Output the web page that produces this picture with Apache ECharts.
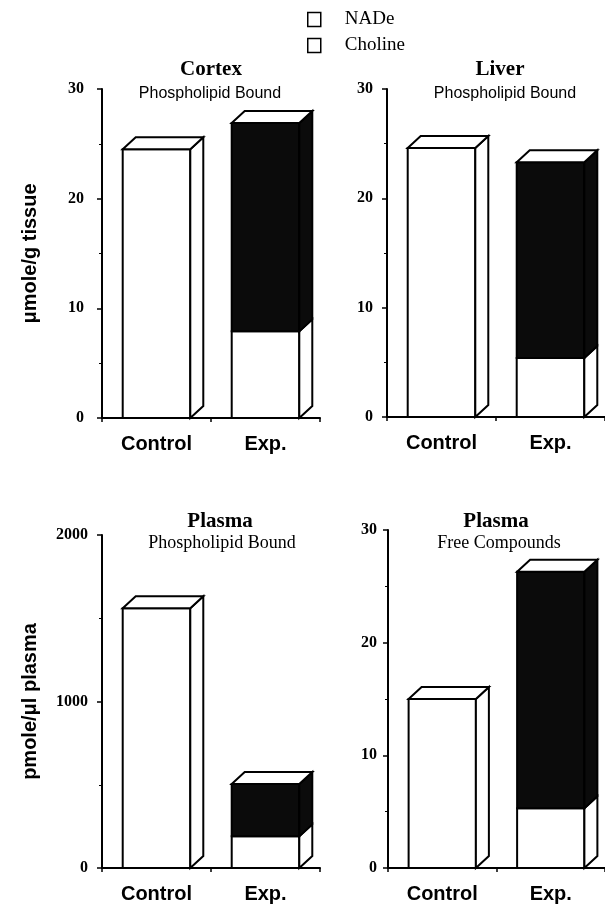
<!DOCTYPE html>
<html>
<head>
<meta charset="utf-8">
<script src="https://cdn.jsdelivr.net/npm/echarts@6/dist/echarts.min.js"></script>
<style>
  html, body { margin: 0; padding: 0; background: #fff; }
  #chart { width: 605px; height: 909px; }
</style>
</head>
<body>
<div id="chart"></div>
<script>
// values
const categories = ['Control', 'Exp.']
const cortexCholine = [24.5, 7.9]
const cortexNade = [0, 19.0]
const liverCholine = [24.6, 5.4]
const liverNade = [0, 17.9]
const plasmaPlCholine = [1560, 190]
const plasmaPlNade = [0, 314]
const plasmaFreeCholine = [15.0, 5.3]
const plasmaFreeNade = [0, 21.0]

const serif = 'Liberation Serif'
const sans = 'Liberation Sans'
const depthX = 13
const depthY = 12

// 3D-looking box bar, drawn from the axis scales
function renderBar(params, api) {
  const i = api.value(0)
  const lo = api.value(1)
  const hi = api.value(2)
  const isTop = api.value(3)
  if (hi <= lo) return
  const w = api.size([1, 0])[0] * 0.62
  const pLo = api.coord([i, lo])
  const pHi = api.coord([i, hi])
  const x0 = pLo[0] - w / 2
  const x1 = x0 + w
  const fill = params.seriesName === 'NADe' ? '#0b0b0b' : '#fff'
  const stroke = { stroke: '#000', lineWidth: 2, lineJoin: 'miter' }
  const children = [
    {
      type: 'rect',
      shape: { x: x0, y: pHi[1], width: w, height: pLo[1] - pHi[1] },
      style: Object.assign({ fill }, stroke),
    },
    {
      type: 'polygon',
      shape: { points: [[x1, pLo[1]], [x1 + depthX, pLo[1] - depthY], [x1 + depthX, pHi[1] - depthY], [x1, pHi[1]]] },
      style: Object.assign({ fill }, stroke),
    },
  ]
  if (isTop) {
    children.push({
      type: 'polygon',
      shape: { points: [[x0, pHi[1]], [x0 + depthX, pHi[1] - depthY], [x1 + depthX, pHi[1] - depthY], [x1, pHi[1]]] },
      style: Object.assign({ fill: '#fff' }, stroke),
    })
  }
  return { type: 'group', children }
}

function cholineData(chol, nade) {
  return categories.map((c, i) => [i, 0, chol[i], nade[i] > 0 ? 0 : 1])
}
function nadeData(chol, nade) {
  return categories.map((c, i) => [i, chol[i], chol[i] + nade[i], 1])
}

const panels = [
  { chol: cortexCholine, nade: cortexNade, grid: { left: 102, top: 89, width: 218, height: 329 }, max: 30, interval: 10, labelMargin: 18 },
  { chol: liverCholine, nade: liverNade, grid: { left: 387, top: 89, width: 222, height: 328 }, max: 30, interval: 10, labelMargin: 14 },
  { chol: plasmaPlCholine, nade: plasmaPlNade, grid: { left: 102, top: 535, width: 218, height: 333 }, max: 2000, interval: 1000, labelMargin: 14 },
  { chol: plasmaFreeCholine, nade: plasmaFreeNade, grid: { left: 388, top: 530, width: 221, height: 338 }, max: 30, interval: 10, labelMargin: 11 },
]

const axisLine = { show: true, lineStyle: { color: '#000', width: 2 } }
const titleFont = { fontFamily: serif, fontSize: 21, fontWeight: 'bold', color: '#000' }

const option = {
  animation: false,
  backgroundColor: '#fff',
  title: [
    { text: 'Cortex', left: 211, top: 59 },
    { text: 'Phospholipid Bound', left: 210, top: 86, textStyle: { fontFamily: sans, fontSize: 16, fontWeight: 'normal' } },
    { text: 'Liver', left: 500, top: 59 },
    { text: 'Phospholipid Bound', left: 505, top: 86, textStyle: { fontFamily: sans, fontSize: 16, fontWeight: 'normal' } },
    { text: 'Plasma', left: 220, top: 511 },
    { text: 'Phospholipid Bound', left: 222, top: 534, textStyle: { fontFamily: serif, fontSize: 18, fontWeight: 'normal' } },
    { text: 'Plasma', left: 496, top: 511 },
    { text: 'Free Compounds', left: 499, top: 534, textStyle: { fontFamily: serif, fontSize: 18, fontWeight: 'normal' } },
  ].map(t => Object.assign({ textAlign: 'center', padding: 0 }, t, {
    textStyle: Object.assign({}, titleFont, t.textStyle || {}),
  })),
  legend: {
    orient: 'vertical',
    left: 307,
    top: 10,
    padding: 0,
    itemWidth: 13,
    itemHeight: 14,
    itemGap: 7,
    selectedMode: false,
    icon: 'rect',
    textStyle: { fontFamily: serif, fontSize: 19, color: '#000', padding: [0, 0, 0, 19], lineHeight: 14 },
    data: [
      { name: 'NADe', itemStyle: { color: '#fff', borderColor: '#000', borderWidth: 1.5 } },
      { name: 'Choline', itemStyle: { color: '#fff', borderColor: '#000', borderWidth: 1.5 } },
    ],
  },
  grid: panels.map(p => p.grid),
  xAxis: panels.map((p, k) => ({
    type: 'category',
    gridIndex: k,
    data: categories,
    axisLine,
    axisTick: { show: true, length: 4, lineStyle: { color: '#000', width: 1.5 } },
    axisLabel: { margin: 16, color: '#000', fontFamily: sans, fontWeight: 'bold', fontSize: 20 },
  })),
  yAxis: panels.map((p, k) => ({
    type: 'value',
    gridIndex: k,
    min: 0,
    max: p.max,
    interval: p.interval,
    name: k === 0 ? 'μmole/g tissue' : (k === 2 ? 'pmole/μl plasma' : ''),
    nameLocation: 'middle',
    nameRotate: 90,
    nameGap: 62,
    nameTextStyle: { fontFamily: sans, fontWeight: 'bold', fontSize: 20, color: '#000' },
    axisLine,
    axisTick: { show: true, length: 5, lineStyle: { color: '#000', width: 1.5 } },
    minorTick: { show: true, splitNumber: 2, length: 3, lineStyle: { color: '#000', width: 1 } },
    splitLine: { show: false },
    axisLabel: {
      margin: p.labelMargin, color: '#000', fontFamily: serif, fontWeight: 'bold', fontSize: 16,
      formatter: v => String(v),
    },
  })),
  series: [],
}

panels.forEach((p, k) => {
  option.series.push({
    type: 'custom',
    name: 'Choline',
    xAxisIndex: k,
    yAxisIndex: k,
    renderItem: renderBar,
    itemStyle: { color: '#fff' },
    clip: false,
    data: cholineData(p.chol, p.nade),
  })
  option.series.push({
    type: 'custom',
    name: 'NADe',
    xAxisIndex: k,
    yAxisIndex: k,
    renderItem: renderBar,
    itemStyle: { color: '#0b0b0b' },
    clip: false,
    data: nadeData(p.chol, p.nade),
  })
})

const chart = echarts.init(document.getElementById('chart'), null, { renderer: 'canvas' })
chart.setOption(option)
</script>
</body>
</html>
